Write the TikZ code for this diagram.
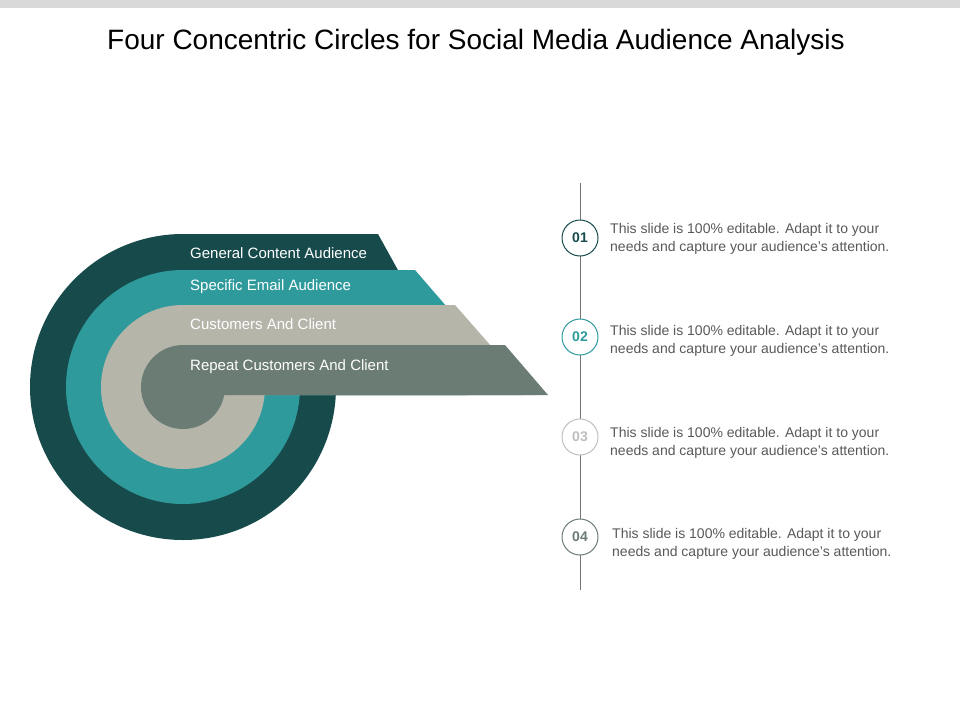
\documentclass[tikz,border=0pt]{standalone}
\usepackage{fontspec}
\setmainfont{Liberation Sans}
\definecolor{cA}{HTML}{174A4B}
\definecolor{cB}{HTML}{2E9A9C}
\definecolor{cC}{HTML}{B5B5AA}
\definecolor{cD}{HTML}{6B7C74}
\definecolor{txt}{HTML}{595959}
\begin{document}
\begin{tikzpicture}[x=1pt,y=-1pt,
  lbl/.style={anchor=west,text=white,font=\fontsize{15}{18}\selectfont,inner sep=0pt},
  num/.style={circle,draw=#1,line width=1pt,fill=white,minimum size=36pt,inner sep=0pt,text=#1,font=\bfseries\fontsize{14}{16}\selectfont},
  para/.style={anchor=west,align=left,text=txt,font=\fontsize{14}{18}\selectfont,inner sep=0pt}]
\useasboundingbox (0,0) rectangle (960,720);
\fill[white] (0,0) rectangle (960,720);
\fill[black!15] (0,0) rectangle (960,8);
\node (title) at (476,42) {\fontsize{28}{32}\selectfont Four Concentric Circles for Social Media Audience Analysis};
% bands
\fill[cA] (183,387) circle[radius=153];
\fill[cA] (183,234) -- (378,234) -- (467,395) -- (183,395) -- cycle;
\fill[cB] (183,387) circle[radius=117];
\fill[cB] (183,270) -- (415,270) -- (523,395) -- (183,395) -- cycle;
\fill[cC] (183,387) circle[radius=82];
\fill[cC] (183,305) -- (455,305) -- (534,395) -- (183,395) -- cycle;
\fill[cD] (183,387) circle[radius=42];
\fill[cD] (183,345) -- (505,345) -- (548,395) -- (183,395) -- cycle;
\node[lbl] (l1) at (190,253) {General Content Audience};
\node[lbl] (l2) at (190,287) {Specific Email Audience};
\node[lbl] (l3) at (190,324) {Customers And Client};
\node[lbl] (l4) at (190,367) {Repeat Customers And Client};
% timeline
\coordinate (top) at (580,183);
\coordinate (bot) at (580,590);
\draw[black!55,line width=0.8pt] (top) -- (bot);
\node[num=cA] (n1) at (580,238) {01};
\node[num=cB] (n2) at (580,337) {02};
\node[num=black!25] (n3) at (580,437) {03};
\node[num=cD] (n4) at (580,537) {04};
\foreach \i/\y/\x in {1/239/610,2/341/610,3/443/610,4/544/612}{
  \node[para] (p\i) at (\x,\y) {This slide is 100\% editable. Adapt it to your\\needs and capture your audience's attention.};
}
\end{tikzpicture}
\end{document}
